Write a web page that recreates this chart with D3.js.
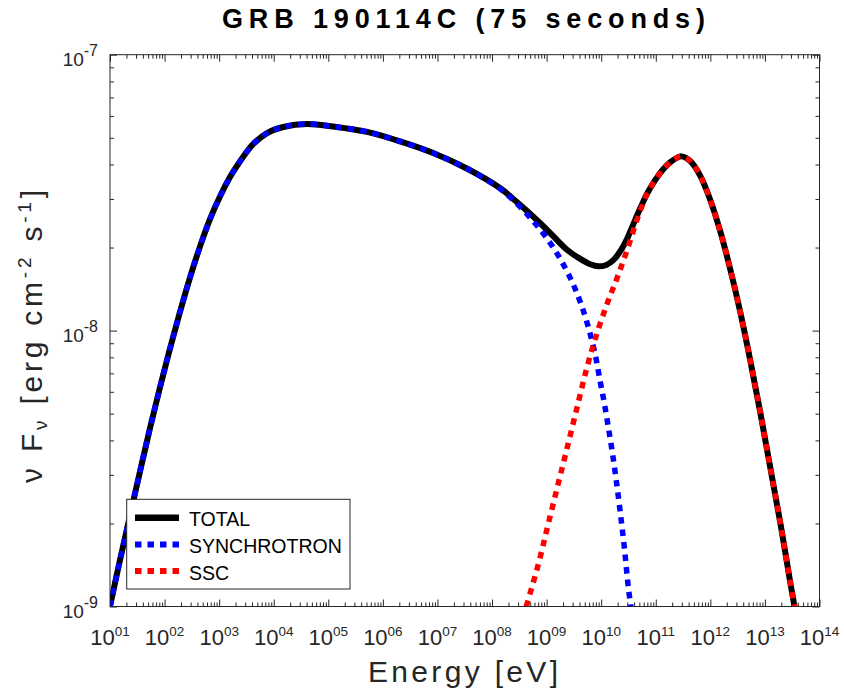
<!DOCTYPE html>
<html>
<head>
<meta charset="utf-8">
<script src="https://cdn.jsdelivr.net/npm/d3@7"></script>
<style>
  body { margin: 0; background: #fff; }
  svg { display: block; }
  text { font-family: "Liberation Sans", Arial, Helvetica, sans-serif; }
</style>
</head>
<body>
<svg id="chart" width="844" height="695"></svg>
<script>
// Photon energy (eV) and nu F_nu flux (erg cm^-2 s^-1) for each model component
const synchEnergy = [1.00e1, 1.52e1, 2.33e1, 3.55e1, 5.41e1, 8.26e1, 1.26e2, 1.92e2, 2.93e2, 4.47e2,
  6.82e2, 1.04e3, 1.58e3, 2.42e3, 4.19e3, 7.57e3, 1.49e4, 4.09e4, 1.23e5, 5.15e5,
  2.07e6, 8.36e6, 3.52e7, 1.42e8, 3.03e8, 5.70e8, 9.46e8, 1.64e9, 2.72e9, 4.14e9,
  5.81e9, 7.80e9, 9.64e9, 1.14e10, 1.35e10, 1.60e10, 1.89e10, 2.24e10, 2.65e10, 3.15e10,
  3.49e10];
const synchFlux = [1.00e-9, 1.47e-9, 2.14e-9, 3.09e-9, 4.43e-9, 6.24e-9, 8.63e-9, 1.17e-8, 1.56e-8, 2.02e-8,
  2.54e-8, 3.07e-8, 3.60e-8, 4.11e-8, 4.74e-8, 5.20e-8, 5.47e-8, 5.61e-8, 5.49e-8, 5.25e-8,
  4.85e-8, 4.40e-8, 3.86e-8, 3.26e-8, 2.85e-8, 2.49e-8, 2.20e-8, 1.87e-8, 1.55e-8, 1.27e-8,
  1.03e-8, 8.15e-9, 6.50e-9, 5.46e-9, 4.47e-9, 3.62e-9, 2.86e-9, 2.19e-9, 1.64e-9, 1.17e-9,
  1.00e-9];

const sscEnergy = [4.24e8, 7.03e8, 1.07e9, 1.64e9, 2.50e9, 3.81e9, 5.57e9, 8.49e9, 1.30e10, 1.98e10,
  3.01e10, 4.59e10, 7.01e10, 9.83e10, 1.38e11, 1.85e11, 2.39e11, 2.95e11, 4.32e11, 6.58e11,
  1.00e12, 1.53e12, 2.33e12, 3.56e12, 5.43e12, 8.28e12, 1.26e13, 1.93e13, 2.94e13, 3.48e13];
const sscFlux = [1.00e-9, 1.42e-9, 1.99e-9, 2.80e-9, 3.91e-9, 5.50e-9, 7.43e-9, 9.86e-9, 1.26e-8, 1.56e-8,
  1.97e-8, 2.54e-8, 3.15e-8, 3.52e-8, 3.85e-8, 4.08e-8, 4.22e-8, 4.28e-8, 4.11e-8, 3.63e-8,
  2.97e-8, 2.28e-8, 1.66e-8, 1.16e-8, 7.74e-9, 5.01e-9, 3.17e-9, 1.99e-9, 1.21e-9, 1.00e-9];

const totalEnergy = [1.00e1, 1.52e1, 2.33e1, 3.55e1, 5.41e1, 8.26e1, 1.26e2, 1.92e2, 2.93e2, 4.47e2,
  6.82e2, 1.04e3, 1.58e3, 2.42e3, 4.19e3, 7.57e3, 1.49e4, 4.09e4, 1.23e5, 5.15e5,
  2.07e6, 8.36e6, 3.52e7, 1.42e8, 2.45e8, 4.43e8, 7.66e8, 1.32e9, 2.39e9, 4.14e9,
  6.32e9, 8.85e9, 1.24e10, 1.67e10, 2.24e10, 3.01e10, 3.88e10, 5.22e10, 7.01e10, 9.83e10,
  1.38e11, 1.85e11, 2.39e11, 2.95e11, 4.32e11, 6.58e11, 1.00e12, 1.53e12, 2.33e12, 3.56e12,
  5.43e12, 8.28e12, 1.26e13, 1.93e13, 2.94e13, 3.48e13];
const totalFlux = [1.00e-9, 1.47e-9, 2.14e-9, 3.09e-9, 4.43e-9, 6.24e-9, 8.63e-9, 1.17e-8, 1.56e-8, 2.02e-8,
  2.54e-8, 3.07e-8, 3.60e-8, 4.11e-8, 4.74e-8, 5.20e-8, 5.47e-8, 5.61e-8, 5.49e-8, 5.25e-8,
  4.85e-8, 4.40e-8, 3.86e-8, 3.28e-8, 3.00e-8, 2.71e-8, 2.45e-8, 2.20e-8, 1.96e-8, 1.82e-8,
  1.74e-8, 1.71e-8, 1.73e-8, 1.80e-8, 1.94e-8, 2.16e-8, 2.43e-8, 2.78e-8, 3.15e-8, 3.52e-8,
  3.85e-8, 4.08e-8, 4.22e-8, 4.28e-8, 4.11e-8, 3.63e-8, 2.97e-8, 2.28e-8, 1.66e-8, 1.16e-8,
  7.74e-9, 5.01e-9, 3.17e-9, 1.99e-9, 1.21e-9, 1.00e-9];

// Axis ticks: decade exponents and the labels shown beside them
const xTickExponents = [1, 2, 3, 4, 5, 6, 7, 8, 9, 10, 11, 12, 13, 14];
const xTickLabels = ["01", "02", "03", "04", "05", "06", "07", "08", "09", "10", "11", "12", "13", "14"];
const yTickExponents = [-9, -8, -7];
const yTickLabels = ["-9", "-8", "-7"];

const legendNames = ["TOTAL", "SYNCHROTRON", "SSC"];
const seriesColors = ["#000000", "#0000ff", "#ff0000"];

const svg = d3.select("#chart");
const box = { left: 110, right: 819.5, top: 54.7, bottom: 606.5 };
const axisColor = "#262626";

const x = d3.scaleLog().domain([1e1, 1e14]).range([box.left, box.right]);
const y = d3.scaleLog().domain([1e-9, 1e-7]).range([box.bottom, box.top]);

// Minor log ticks (2..9 within each decade)
const xMajor = xTickExponents.map(e => Math.pow(10, e));
const xMinor = [];
for (let e = 1; e < 14; e++) for (let k = 2; k <= 9; k++) xMinor.push(k * Math.pow(10, e));
const yMajor = yTickExponents.map(e => Math.pow(10, e));
const yMinor = [];
for (let e = -9; e < -7; e++) for (let k = 2; k <= 9; k++) yMinor.push(k * Math.pow(10, e));

svg.append("defs").append("clipPath").attr("id", "plotClip")
  .append("rect")
  .attr("x", box.left).attr("y", box.top)
  .attr("width", box.right - box.left).attr("height", box.bottom - box.top);

// Ticks on all four sides, pointing inward
function tickLayer(axisGen, translate) {
  const g = svg.append("g").attr("transform", translate).call(axisGen);
  g.select(".domain").remove();
  g.selectAll(".tick line").attr("stroke", axisColor).attr("stroke-width", 1);
  g.selectAll(".tick text").remove();
  return g;
}
const sides = [
  [d3.axisBottom, `translate(0,${box.bottom})`, x, xMajor, xMinor],
  [d3.axisTop, `translate(0,${box.top})`, x, xMajor, xMinor],
  [d3.axisLeft, `translate(${box.left},0)`, y, yMajor, yMinor],
  [d3.axisRight, `translate(${box.right},0)`, y, yMajor, yMinor]
];
sides.forEach(([maker, tr, sc, major, minor]) => {
  tickLayer(maker(sc).tickValues(major).tickSize(-7).tickFormat(""), tr);
  tickLayer(maker(sc).tickValues(minor).tickSize(-4).tickFormat(""), tr);
});

// Curves
const line = d3.line()
  .x(d => x(d[0]))
  .y(d => y(d[1]))
  .curve(d3.curveCatmullRom.alpha(0.5));
const zip = (e, f) => e.map((v, i) => [v, f[i]]);

const curves = svg.append("g").attr("clip-path", "url(#plotClip)");
curves.append("path")
  .attr("d", line(zip(totalEnergy, totalFlux)))
  .attr("fill", "none").attr("stroke", seriesColors[0])
  .attr("stroke-width", 6).attr("stroke-linejoin", "round");
curves.append("path")
  .attr("d", line(zip(synchEnergy, synchFlux)))
  .attr("fill", "none").attr("stroke", seriesColors[1])
  .attr("stroke-width", 5.5).attr("stroke-dasharray", "6.5,6");
curves.append("path")
  .attr("d", line(zip(sscEnergy, sscFlux)))
  .attr("fill", "none").attr("stroke", seriesColors[2])
  .attr("stroke-width", 5.5).attr("stroke-dasharray", "6.5,6");

// Frame
svg.append("rect")
  .attr("x", box.left).attr("y", box.top)
  .attr("width", box.right - box.left).attr("height", box.bottom - box.top)
  .attr("fill", "none").attr("stroke", axisColor).attr("stroke-width", 1);

// X tick labels: 10 with a small raised exponent
xTickExponents.forEach((e, i) => {
  const t = svg.append("text")
    .attr("x", x(Math.pow(10, e))).attr("y", 645)
    .attr("text-anchor", "middle").attr("fill", axisColor);
  t.append("tspan").attr("font-size", 22).text("10");
  t.append("tspan").attr("font-size", 13.5).attr("dy", -9).text(xTickLabels[i]);
});

// Y tick labels
yTickExponents.forEach((e, i) => {
  const t = svg.append("text")
    .attr("x", 98).attr("y", y(Math.pow(10, e)) + 11.6)
    .attr("text-anchor", "end").attr("fill", axisColor);
  t.append("tspan").attr("font-size", 19).text("10");
  t.append("tspan").attr("font-size", 16).attr("dy", -10).text(yTickLabels[i]);
});

// Title and axis titles
svg.append("text")
  .attr("x", 463.5).attr("y", 28)
  .attr("text-anchor", "middle").attr("font-size", 27).attr("font-weight", "bold")
  .attr("textLength", 483).attr("lengthAdjust", "spacing")
  .attr("fill", "#000")
  .text("GRB 190114C (75 seconds)");

svg.append("text")
  .attr("x", 463).attr("y", 682)
  .attr("text-anchor", "middle").attr("font-size", 30)
  .attr("textLength", 190).attr("lengthAdjust", "spacing")
  .attr("fill", axisColor)
  .text("Energy [eV]");

const yl = svg.append("text")
  .attr("transform", "translate(42,336.5) rotate(-90)")
  .attr("text-anchor", "middle").attr("font-size", 30)
  .attr("textLength", 293).attr("lengthAdjust", "spacing")
  .attr("fill", axisColor);
yl.append("tspan").text("\u03bd F");
yl.append("tspan").attr("font-size", 19).attr("dy", 5).text("\u03bd");
yl.append("tspan").attr("dy", -5).text(" [erg cm");
yl.append("tspan").attr("font-size", 19).attr("dy", -11).text("-2");
yl.append("tspan").attr("dy", 11).text(" s");
yl.append("tspan").attr("font-size", 19).attr("dy", -11).text("-1");
yl.append("tspan").attr("dy", 11).text("]");

// Legend
const lg = svg.append("g");
lg.append("rect")
  .attr("x", 126.7).attr("y", 499.3).attr("width", 223.3).attr("height", 89.7)
  .attr("fill", "#fff").attr("stroke", axisColor).attr("stroke-width", 1);
const rowLineY = [517.7, 544.5, 571];
const rowTextY = [525.7, 552.7, 579.7];
legendNames.forEach((name, i) => {
  const l = lg.append("line")
    .attr("x1", 135).attr("x2", 179)
    .attr("y1", rowLineY[i]).attr("y2", rowLineY[i])
    .attr("stroke", seriesColors[i]).attr("stroke-width", i === 0 ? 6.5 : 6);
  if (i > 0) l.attr("stroke-dasharray", "6.5,6");
  lg.append("text")
    .attr("x", 189).attr("y", rowTextY[i])
    .attr("font-size", 19.5).attr("fill", "#000")
    .text(name);
});
</script>
</body>
</html>
